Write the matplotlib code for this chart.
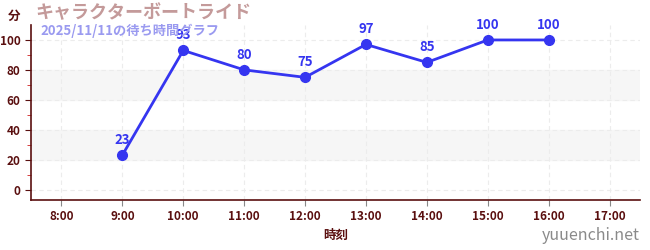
import numpy as np
import matplotlib.pyplot as plt

plt.rcParams["font.family"] = ["Noto Sans CJK JP", "DejaVu Sans"]

hours = [9, 10, 11, 12, 13, 14, 15, 16]
waits = [23, 93, 80, 75, 97, 85, 100, 100]
tick_hours = list(range(8, 18))
tick_labels = [f"{h}:00" for h in tick_hours]

C_LINE = "#3535f0"
C_AXIS = "#5a0f0f"

fig = plt.figure(figsize=(6.5, 2.5), dpi=100)
ax = fig.add_axes([31 / 650, 50 / 250, 609 / 650, 175 / 250])

ax.set_xlim(7.5, 17.5)
ax.set_ylim(-7, 110)

for lo, hi in [(20, 40), (60, 80)]:
    ax.axhspan(lo, hi, color="#f6f6f6", zorder=0)

ax.set_xticks(tick_hours)
ax.set_xticklabels(tick_labels)
ax.set_yticks([0, 20, 40, 60, 80, 100])
ax.set_yticks([10, 30, 50, 70, 90], minor=True)
ax.grid(True, which="major", color="#ececec", ls=(0, (4, 3)), lw=0.8)

for s in ["top", "right"]:
    ax.spines[s].set_visible(False)
for s in ["left", "bottom"]:
    ax.spines[s].set_color(C_AXIS)
    ax.spines[s].set_linewidth(1.2)

ax.tick_params(axis="both", which="major", colors=C_AXIS, labelsize=8.5, length=4)
ax.tick_params(axis="y", which="minor", colors="#d02020", length=3)
ax.tick_params(axis="x", which="major", color="#888888")
for lab in ax.get_xticklabels() + ax.get_yticklabels():
    lab.set_color(C_AXIS)
    lab.set_fontweight("bold")

ax.plot(hours, waits, color=C_LINE, lw=2, marker="o", ms=7, zorder=3)
for h, w in zip(hours, waits):
    ax.annotate(str(w), (h, w), xytext=(0, 6), textcoords="offset points",
                ha="center", va="bottom", color=C_LINE, fontsize=9.5,
                fontweight="bold", zorder=4)

ax.set_xlabel("時刻", color=C_AXIS, fontsize=9, fontweight="bold", labelpad=4)

fig.text(8 / 650, 1 - 16 / 250, "分", color=C_AXIS, fontsize=9,
         fontweight="bold", va="center")
fig.text(35 / 650, 1 - 13 / 250, "キャラクターボートライド", color="#c49a9a",
         fontsize=13, fontweight="bold", va="center")
fig.text(40 / 650, 1 - 31 / 250, "2025/11/11の待ち時間グラフ", color="#9a9af0",
         fontsize=9.5, fontweight="bold", va="center")
fig.text(640 / 650, 1 - 235 / 250, "yuuenchi.net", color="#8a8a8a",
         fontsize=11.5, ha="right", va="center")

fig.savefig("out.png", dpi=100)
